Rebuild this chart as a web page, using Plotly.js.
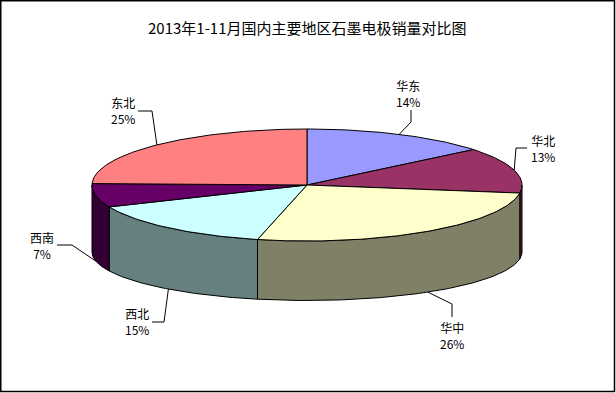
<!DOCTYPE html>
<html>
<head>
<meta charset="utf-8">
<script src="https://cdn.plot.ly/plotly-3.0.1.min.js"></script>
<style>
html,body{margin:0;padding:0;background:#fff;}
#chart{width:616px;height:393px;}
</style>
</head>
<body>
<div id="chart"></div>
<script>
// ---- data ----
const titleText = '2013年1-11月国内主要地区石墨电极销量对比图';
const regions = ['华东', '华北', '华中', '西北', '西南', '东北'];
const shares = [14.1, 13.2, 26.4, 14.9, 6.8, 24.6];

// ---- styles ----
const topColors  = ['#9999FF', '#993366', '#FFFFCC', '#CCFFFF', '#660066', '#FF8080'];
const sideColors = ['#4D4D80', '#4D1A33', '#808066', '#668080', '#330033', '#804040'];
const geo = {cx: 307, cy: 185, a: 215, b: 56, bcy: 252, bb: 48.5};
// label centre positions and leader-line start / elbow points (layout config)
const labelPos = [[408, 93], [543, 148], [452, 335], [137, 321], [42, 245], [123, 110.5]];
const leaderStart = [[411, 110], [527, 148], [452, 317], [152, 322], [57, 245], [138, 111]];
const leaderElbow = [[411, 122], [516, 148], [452, 304], [164, 322], [72, 245], [152, 111]];

const rad = d => d * Math.PI / 180;
function pt(phi, top) {
  const x = geo.cx + geo.a * Math.sin(rad(phi));
  const y = top ? geo.cy - geo.b * Math.cos(rad(phi)) : geo.bcy - geo.bb * Math.cos(rad(phi));
  return [x, y];
}
function arc(p1, p2, top) {
  const pts = [];
  const n = Math.max(2, Math.ceil(Math.abs(p2 - p1)));
  for (let i = 0; i <= n; i++) pts.push(pt(p1 + (p2 - p1) * i / n, top));
  return pts;
}

const total = shares.reduce((s, v) => s + v, 0);
const starts = [], ends = [];
let acc = 0;
shares.forEach(v => { starts.push(acc / total * 360); acc += v; ends.push(acc / total * 360); });

const traces = [];
// sides
shares.forEach((v, i) => {
  const s = Math.max(starts[i], 90), e = Math.min(ends[i], 270);
  if (s < e) {
    const pts = arc(s, e, true).concat(arc(e, s, false));
    pts.push(pts[0]);
    traces.push({type: 'scatter', mode: 'lines', x: pts.map(p => p[0]), y: pts.map(p => p[1]),
      fill: 'toself', fillcolor: sideColors[i], line: {color: '#000', width: 1}, hoverinfo: 'skip', showlegend: false});
  }
});
// tops
shares.forEach((v, i) => {
  const pts = [[geo.cx, geo.cy]].concat(arc(starts[i], ends[i], true));
  pts.push([geo.cx, geo.cy]);
  traces.push({type: 'scatter', mode: 'lines', x: pts.map(p => p[0]), y: pts.map(p => p[1]),
    fill: 'toself', fillcolor: topColors[i], line: {color: '#000', width: 1}, hoverinfo: 'skip', showlegend: false});
});
// leader lines
shares.forEach((v, i) => {
  const mid = (starts[i] + ends[i]) / 2;
  const lower = mid > 90 && mid < 270;
  const anchor = pt(mid, !lower);
  const pts = [leaderStart[i], leaderElbow[i], anchor];
  traces.push({type: 'scatter', mode: 'lines', x: pts.map(p => p[0]), y: pts.map(p => p[1]),
    line: {color: '#000', width: 1}, hoverinfo: 'skip', showlegend: false});
});

const annotations = regions.map((r, i) => ({
  x: labelPos[i][0], y: labelPos[i][1], xref: 'x', yref: 'y',
  text: r + '<br>' + Math.round(shares[i] / total * 100) + '%', showarrow: false, align: 'center',
  font: {family: '"Noto Sans CJK SC", "DejaVu Sans", sans-serif', size: 12, color: '#000'}
}));
annotations.push({
  x: 307, y: 27, xref: 'x', yref: 'y', text: titleText, showarrow: false,
  font: {family: '"Noto Sans CJK SC", "DejaVu Sans", sans-serif', size: 15, color: '#000'}
});

const layout = {
  width: 616, height: 393,
  margin: {l: 0, r: 0, t: 0, b: 0},
  paper_bgcolor: '#fff', plot_bgcolor: '#fff',
  xaxis: {range: [0, 616], visible: false, fixedrange: true},
  yaxis: {range: [393, 0], visible: false, fixedrange: true},
  showlegend: false,
  annotations: annotations,
  shapes: [{type: 'rect', xref: 'x', yref: 'y', x0: 0.75, y0: 0.75, x1: 614.5, y1: 391.5,
    line: {color: '#000', width: 1.5}}]
};

Plotly.newPlot('chart', traces, layout, {staticPlot: true, displayModeBar: false});
</script>
</body>
</html>
